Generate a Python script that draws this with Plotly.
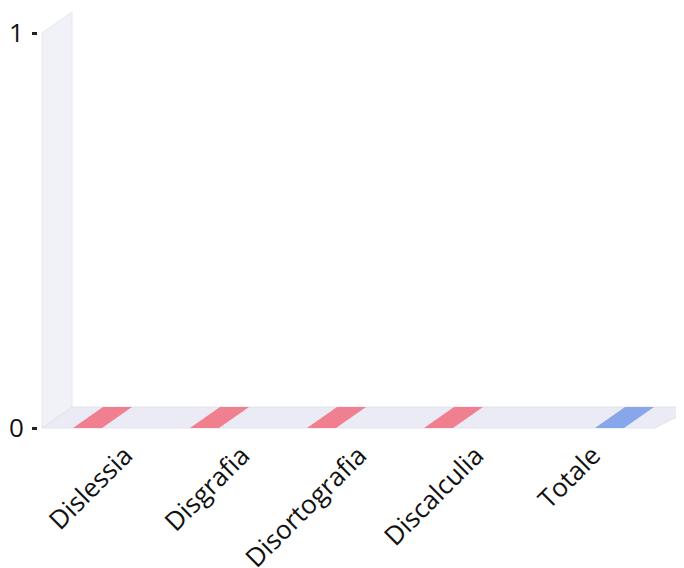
import plotly.graph_objects as go

# ---- data ----
categories = ["Dislessia", "Disgrafia", "Disortografia", "Discalculia", "Totale"]
values_red = [0, 0, 0, 0, None]
values_blue = [None, None, None, None, 0]
y_ticks = [0, 1]
y_ticklabels = ["0", "1"]

# ---- pseudo-3D geometry (in axis units; category i sits at x=i) ----
PX = 117.0            # pixels per category unit
PY = 395.0            # pixels per value unit
DEPTH_X = 30 / PX     # depth offset
DEPTH_Y = 21 / PY
BAR_W = 29 / PX
OFF_RED = -52 / PX
OFF_BLUE = 2 / PX

# page has an 8px body margin, so the figure is 676x560 placed at (8, 8)
X_MIN = (38 - 125) / PX
X_WALL = (42 - 125) / PX
X_MAX = (684 - 125) / PX
Y_MIN = -(440 - 428) / PY
Y_MAX = 1 + (33 - 8) / PY

fig = go.Figure()

# left wall
fig.add_trace(go.Scatter(
    x=[X_WALL, X_WALL, X_WALL + DEPTH_X, X_WALL + DEPTH_X, X_WALL],
    y=[0, 1, 1 + DEPTH_Y, DEPTH_Y, 0],
    fill="toself", fillcolor="#f1f1f8", mode="lines",
    line=dict(color="#e6e6f0", width=1), hoverinfo="skip", showlegend=False))
# floor
fig.add_trace(go.Scatter(
    x=[X_WALL, X_WALL + DEPTH_X, X_MAX + 0.1, (655 - 125) / PX, X_WALL],
    y=[0, DEPTH_Y, DEPTH_Y, 0, 0],
    fill="toself", fillcolor="#ebebf5", mode="lines",
    line=dict(color="#e2e2ee", width=1), hoverinfo="skip", showlegend=False))


def add_bars(vals, offset, color):
    for i, v in enumerate(vals):
        if v is None:
            continue
        x0 = i + offset
        x1 = x0 + BAR_W
        # front face
        if v > 0:
            fig.add_trace(go.Scatter(
                x=[x0, x1, x1, x0, x0], y=[0, 0, v, v, 0],
                fill="toself", fillcolor=color, mode="lines",
                line=dict(width=0), hoverinfo="skip", showlegend=False))
        # top face
        fig.add_trace(go.Scatter(
            x=[x0, x1, x1 + DEPTH_X, x0 + DEPTH_X, x0],
            y=[v, v, v + DEPTH_Y, v + DEPTH_Y, v],
            fill="toself", fillcolor=color, mode="lines",
            line=dict(width=0), hoverinfo="skip", showlegend=False))


add_bars(values_red, OFF_RED, "#f0808f")
add_bars(values_blue, OFF_BLUE, "#88a6ea")

fig.update_layout(
    width=676, height=560,
    margin=dict(l=30, r=0, t=0, b=128, autoexpand=False),
    paper_bgcolor="white", plot_bgcolor="white",
    font=dict(family="Open Sans", size=24, color="#111111"),
    showlegend=False,
    xaxis=dict(range=[X_MIN, X_MAX], tickmode="array",
               tickvals=list(range(len(categories))), ticktext=categories,
               tickangle=-45, showgrid=False, zeroline=False, showline=False,
               ticks="", tickfont=dict(size=26), automargin=False,
               ticklabelstandoff=-6),
    yaxis=dict(range=[Y_MIN, Y_MAX], tickmode="array", tickvals=y_ticks,
               ticktext=y_ticklabels, showgrid=False, zeroline=False,
               showline=False, ticks="outside", ticklen=5, tickwidth=2.5,
               tickcolor="#222222", tickfont=dict(size=26),
               ticklabelstandoff=3, automargin=False),
)

fig.write_html("out.html")
